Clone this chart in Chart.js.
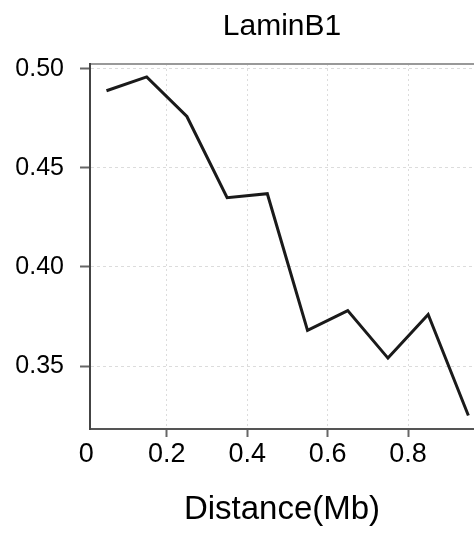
<!DOCTYPE html>
<html lang="en">
  <head>
    <meta charset="UTF-8" />
    <style>
      body { margin: 0; background: #fff; }
      #wrap { width: 474px; height: 537px; }
    </style>
  </head>
  <body>
    <div id="wrap"><canvas id="myChart"></canvas></div>
    <script src="https://cdn.jsdelivr.net/npm/chart.js@4.4.0/dist/chart.umd.min.js"></script>
    <script>
      // values
      var distance = [0.05, 0.15, 0.25, 0.35, 0.45, 0.55, 0.65, 0.75, 0.85, 0.95];
      var laminB1 = [0.489, 0.496, 0.476, 0.435, 0.437, 0.368, 0.378, 0.354, 0.376, 0.325];
      var xTicks = [0, 0.2, 0.4, 0.6, 0.8];
      var yTicks = [0.35, 0.4, 0.45, 0.5];

      var font = "'Liberation Sans', Arial, sans-serif";

      var ctx = document.getElementById("myChart").getContext("2d");
      var chart = new Chart(ctx, {
        type: "line",
        data: {
          datasets: [
            {
              data: distance.map(function (d, i) {
                return { x: d, y: laminB1[i] };
              }),
              borderColor: "#1a1a1a",
              borderWidth: 3,
              pointRadius: 0,
              tension: 0,
              fill: false,
            },
          ],
        },
        options: {
          responsive: true,
          maintainAspectRatio: false,
          animation: false,
          layout: { padding: 0 },
          plugins: {
            legend: { display: false },
            tooltip: { enabled: false },
            title: {
              display: true,
              text: "LaminB1",
              fullSize: false,
              color: "#000",
              font: { family: font, size: 30, weight: "normal" },
              padding: { top: 9, bottom: 19 },
            },
          },
          scales: {
            x: {
              type: "linear",
              position: "bottom",
              min: 0.009,
              max: 0.964,
              afterBuildTicks: function (scale) {
                scale.ticks = xTicks.map(function (v) { return { value: v }; });
              },
              afterFit: function (scale) { scale.height = 108; },
              ticks: {
                color: "#000",
                padding: 1,
                maxRotation: 0,
                autoSkip: false,
                font: { family: font, size: 27 },
                callback: function (v) { return v === 0 ? "0" : v.toFixed(1); },
              },
              grid: {
                color: function (c) { return c.tick && c.tick.value === 0 ? "rgba(0,0,0,0)" : "#dcdcdc"; },
                lineWidth: 1,
                tickLength: 8,
                tickWidth: 2,
                tickColor: function (c) { return c.tick && c.tick.value === 0 ? "rgba(0,0,0,0)" : "#666"; },
              },
              border: { display: true, color: "#555", width: 2, dash: [2, 3] },
              title: {
                display: true,
                text: "Distance(Mb)",
                color: "#000",
                font: { family: font, size: 33 },
                padding: { top: 0, bottom: 7 },
              },
            },
            x2: {
              type: "linear",
              position: "top",
              min: 0,
              max: 1,
              afterFit: function (scale) { scale.height = 0; },
              ticks: { display: false },
              grid: { display: false, drawTicks: false },
              border: { display: true, color: "#999", width: 2 },
            },
            y: {
              type: "linear",
              min: 0.3182,
              max: 0.5025,
              afterBuildTicks: function (scale) {
                scale.ticks = yTicks.map(function (v) { return { value: v }; });
              },
              afterFit: function (scale) { scale.width = 90; },
              ticks: {
                color: "#000",
                padding: 16,
                font: { family: font, size: 25 },
                callback: function (v) { return v.toFixed(2); },
              },
              grid: {
                color: "#dcdcdc",
                lineWidth: 1,
                tickLength: 10,
                tickWidth: 2,
                tickColor: "#666",
              },
              border: { display: true, color: "#444", width: 2, dash: [3, 3] },
            },
          },
        },
      });
    </script>
  </body>
</html>
